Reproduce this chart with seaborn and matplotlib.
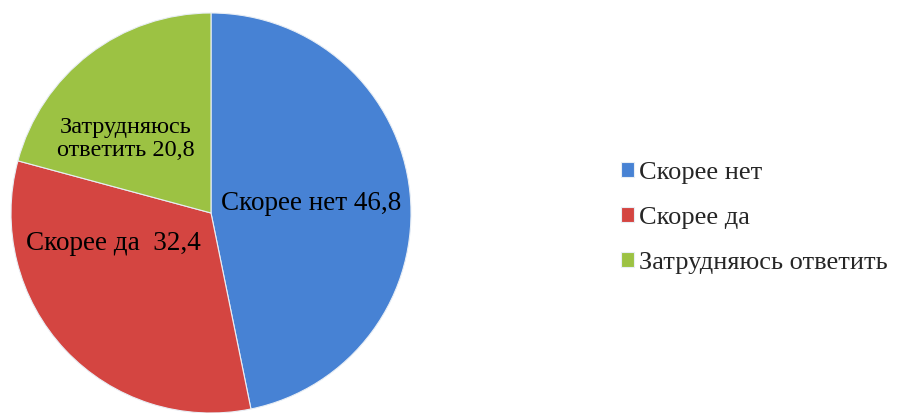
import matplotlib
matplotlib.use("Agg")
import matplotlib.pyplot as plt
import seaborn as sns

# survey answers, percent
categories = ["Скорее нет", "Скорее да", "Затрудняюсь ответить"]
values = [46.8, 32.4, 20.8]
slice_labels = ["Скорее нет 46,8", "Скорее да  32,4", "Затрудняюсь\nответить 20,8"]

sns.set_style("white")
plt.rcParams["font.family"] = ["Liberation Serif", "DejaVu Serif"]

colors = sns.color_palette(["#4782d4", "#d44541", "#9cc243"])

fig = plt.figure(figsize=(8.97, 4.13), dpi=100)
ax = fig.add_axes([11 / 897, 0.0, 400 / 897, 400 / 413])

wedges, _ = ax.pie(values, colors=colors, startangle=90, counterclock=False,
                   radius=1.0, wedgeprops=dict(edgecolor="#e8eef5", linewidth=0.8))
ax.set_xlim(-1, 1)
ax.set_ylim(-1, 1)
ax.set_aspect("equal")
ax.axis("off")

# label placement inside each slice (data units of the pie)
label_pos = [(0.50, 0.05), (-0.49, -0.15), (-0.425, 0.37)]
label_size = [19.5, 19.5, 17.5]
for (x, y), txt, fs in zip(label_pos, slice_labels, label_size):
    ax.text(x, y, txt, ha="center", va="center", fontsize=fs, color="black",
            linespacing=1.1)

fig.legend(wedges, categories, loc="center left", bbox_to_anchor=(621 / 897, 1 - 218 / 413),
           frameon=False, fontsize=19, handlelength=0.5, handleheight=0.5,
           handletextpad=0.2, labelspacing=0.88, borderpad=0, borderaxespad=0)

fig.savefig("out.png", dpi=100)
